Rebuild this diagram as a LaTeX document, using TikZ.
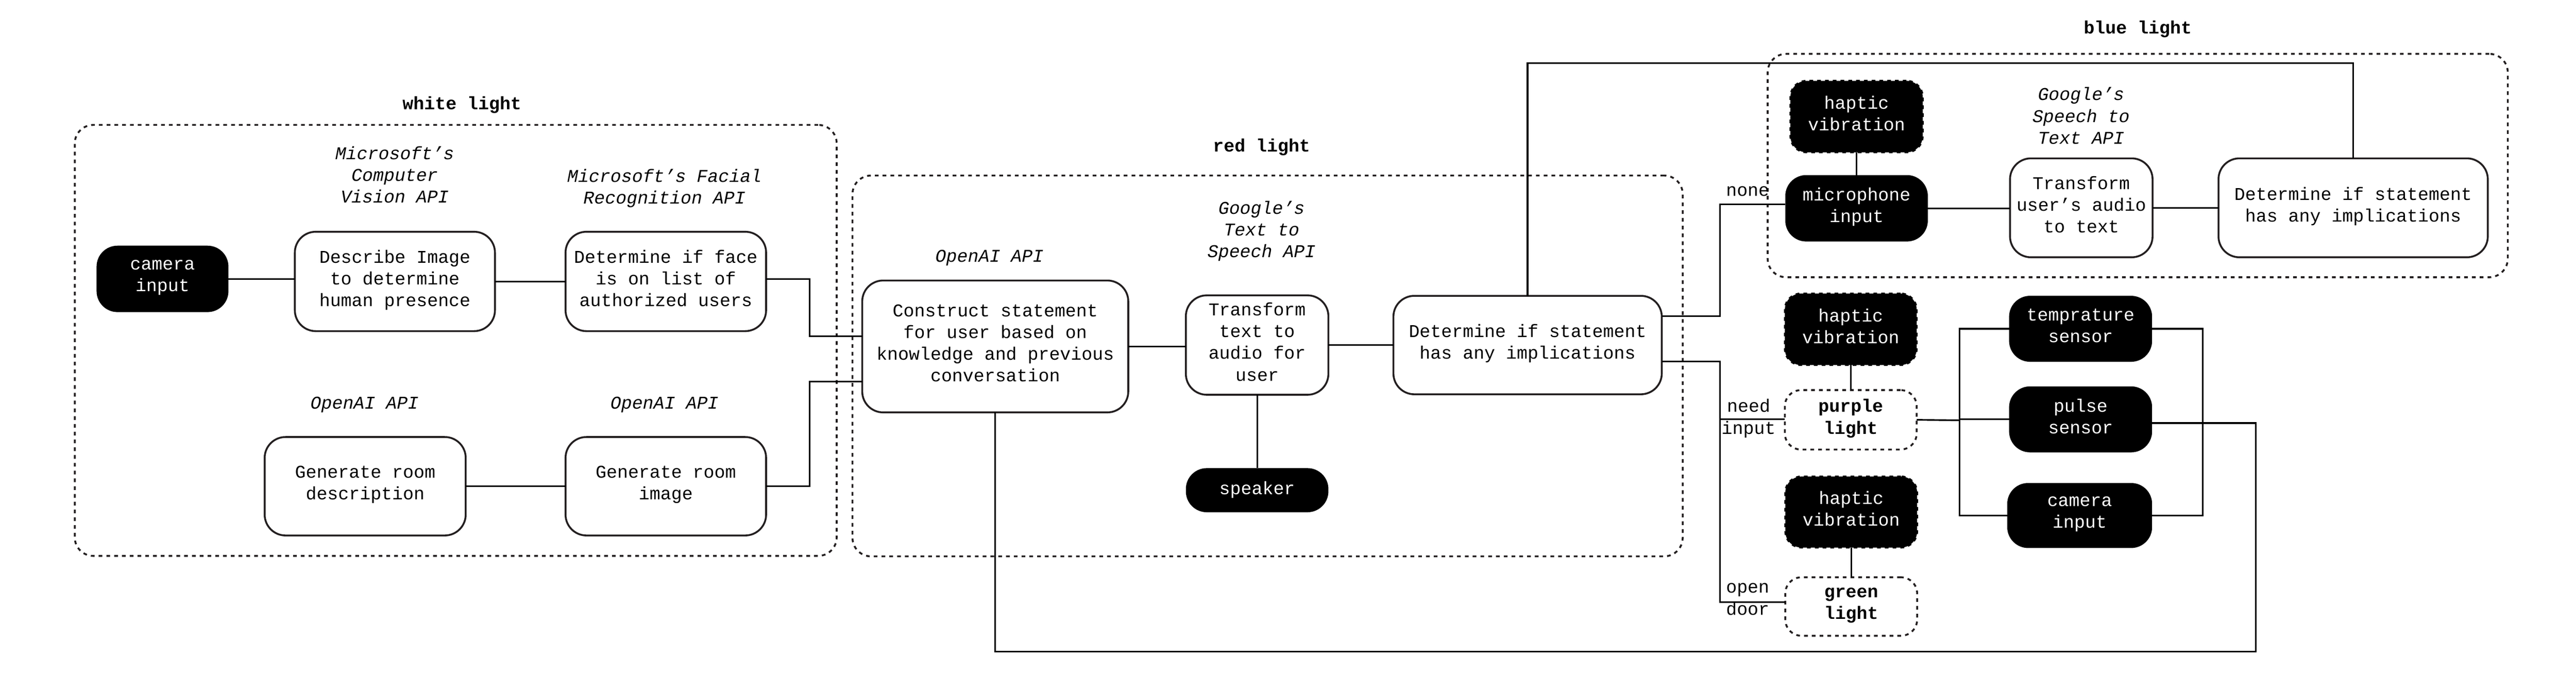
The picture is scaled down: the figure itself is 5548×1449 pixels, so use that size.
\documentclass[tikz,border=0pt]{standalone}
\usepackage{fontspec}
\setmainfont{Liberation Mono}
\usetikzlibrary{calc}
\definecolor{boxline}{RGB}{35,31,32}
\newcommand\myfont{\fontsize{7.75}{9.34}\selectfont}
\tikzset{
  px/.style 2 args={minimum width=#1*0.2pt, minimum height=#2*0.2pt},
  basenode/.style={inner sep=0pt, outer sep=0pt, align=center, font=\myfont,
    execute at begin node=\strut, execute at end node=\strut},
  wbox/.style={basenode, draw=boxline, line width=0.8pt, fill=white, rounded corners=9pt},
  bbox/.style={basenode, fill=black, text=white, rounded corners=9pt},
  hbox/.style={basenode, fill=black, draw=black, line width=0.8pt, dash pattern=on 1.6pt off 1.75pt, text=white, rounded corners=7pt},
  lbox/.style={basenode, font=\myfont\bfseries, draw=boxline, line width=0.8pt, dash pattern=on 1.6pt off 1.75pt, fill=white, rounded corners=7pt},
  group/.style={draw=boxline, line width=0.8pt, dash pattern=on 1.6pt off 1.75pt, rounded corners=8pt, inner sep=0pt},
  api/.style={basenode, font=\myfont\itshape},
  grptitle/.style={basenode, font=\myfont\bfseries},
  elabel/.style={basenode},
  conn/.style={line width=0.7pt, draw=black},
}
\begin{document}
\begin{tikzpicture}[x=0.2pt,y=-0.2pt]
\useasboundingbox (0,0) rectangle (5548,1449);

% groups
\node[group, px={1641}{928}] (gwhite) at (981.5,733) {};
\node[group, px={1788}{820}] (gred) at (2730,788) {};
\node[group, px={1594}{481}] (gblue) at (4604,356.5) {};
\node[grptitle] (twhite) at (995,226) {white light};
\node[grptitle] (tred) at (2717,317) {red light};
\node[grptitle] (tblue) at (4604,63) {blue light};

% api labels
\node[api] (a1) at (850,383) {Microsoft’s\\Computer\\Vision API};
\node[api] (a2) at (1431,409) {Microsoft’s Facial\\Recognition API};
\node[api] (a3) at (785,871) {OpenAI API};
\node[api] (a4) at (1431,871) {OpenAI API};
\node[api] (a5) at (2131,555) {OpenAI API};
\node[api] (a6) at (2717,501) {Google’s\\Text to\\Speech API};
\node[api] (a7) at (4482,256) {Google’s\\Speech to\\Text API};

% white light
\node[bbox, px={284}{143}] (camin1) at (350,600.5) {camera\\input};
\node[wbox, px={431}{214}] (describe) at (850.5,606) {Describe Image\\to determine\\human presence};
\node[wbox, px={432}{214}] (face) at (1434,606) {Determine if face\\is on list of\\authorized users};
\node[wbox, px={433}{212}] (gendesc) at (786.5,1047) {Generate room\\description};
\node[wbox, px={432}{212}] (genimg) at (1434,1047) {Generate room\\image};

% red light
\node[wbox, px={573}{284}] (construct) at (2143.5,746) {Construct statement\\for user based on\\knowledge and previous\\conversation};
\node[wbox, px={307}{214}] (tts) at (2707.5,743) {Transform\\text to\\audio for\\user};
\node[wbox, px={578}{212}] (detred) at (3290,743) {Determine if statement\\has any implications};
\node[bbox, px={307}{95}] (speaker) at (2707.5,1055.5) {speaker};

% blue light
\node[hbox, px={285}{154}] (hapblue) at (3998.5,251) {haptic\\vibration};
\node[bbox, px={307}{143}] (mic) at (3998.5,448.5) {microphone\\input};
\node[wbox, px={307}{213}] (stt) at (4482.5,447.5) {Transform\\user’s audio\\to text};
\node[wbox, px={580}{213}] (detblue) at (5068,447.5) {Determine if statement\\has any implications};

% purple / green
\node[hbox, px={284}{154}] (happurple) at (3986,709) {haptic\\vibration};
\node[lbox, px={284}{128}] (purple) at (3986,904) {purple\\light};
\node[hbox, px={284}{153}] (hapgreen) at (3987,1102.5) {haptic\\vibration};
\node[lbox, px={284}{126}] (green) at (3987,1306) {green\\light};

% sensors
\node[bbox, px={308}{142}] (temp) at (4481,708) {temprature\\sensor};
\node[bbox, px={308}{142}] (pulse) at (4481,903) {pulse\\sensor};
\node[bbox, px={312}{140}] (camin2) at (4479,1110) {camera\\input};

% edge labels
\node[elabel] (lnone) at (3764,413) {none};
\node[elabel] (lneed) at (3766,904) {need\\input};
\node[elabel] (lopen) at (3764,1297) {open\\door};

% junction coordinates
\coordinate (jw1) at (1744,601);
\coordinate (jw2) at (1744,1047);
\coordinate (jtop) at (3289,136);
\coordinate (jr) at (3704,440);
\coordinate (jn) at (3704,903);
\coordinate (jo) at (3704,1297);
\coordinate (jb1) at (4220,905);
\coordinate (jb2) at (4744,1110);
\coordinate (jp) at (4858,1403);

% connectors
\draw[conn] (camin1.east) -- (camin1.east -| describe.west);
\draw[conn] (describe) -- (face);
\draw[conn] (face.east |- jw1) -- (jw1) |- ($(construct.west)+(0,-22)$);
\draw[conn] (gendesc) -- (genimg);
\draw[conn] (genimg.east) -- (jw2) |- ($(construct.west)+(0,76)$);
\draw[conn] (construct.east) -- (construct.east -| tts.west);
\draw[conn] (tts) -- (detred);
\draw[conn] (tts) -- (speaker);
\draw[conn] (detred.north) -- (detred.north |- jtop) -| (detblue.north);
\draw[conn] ($(detred.east)+(0,-62)$) -| (jr) -- (jr -| mic.west);
\draw[conn] ($(detred.east)+(0,35)$) -| (jo) -- (jo -| green.west);
\draw[conn] (jn) -- (jn -| purple.west);
\draw[conn] (hapblue) -- (mic);
\draw[conn] (mic.east) -- (mic.east -| stt.west);
\draw[conn] (stt) -- (detblue);
\draw[conn] (happurple) -- (purple);
\draw[conn] (hapgreen) -- (green);
\draw[conn] (purple.east) -- (jb1);
\draw[conn] (temp.west) -| (jb1 |- camin2.west) -- (camin2.west);
\draw[conn] (jb1 |- pulse.west) -- (pulse.west);
\draw[conn] (temp.east) -| (jb2) -- (camin2.east);
\draw[conn] ($(pulse.east)+(0,8)$) -| (jp) -| (construct.south);
\end{tikzpicture}
\end{document}
